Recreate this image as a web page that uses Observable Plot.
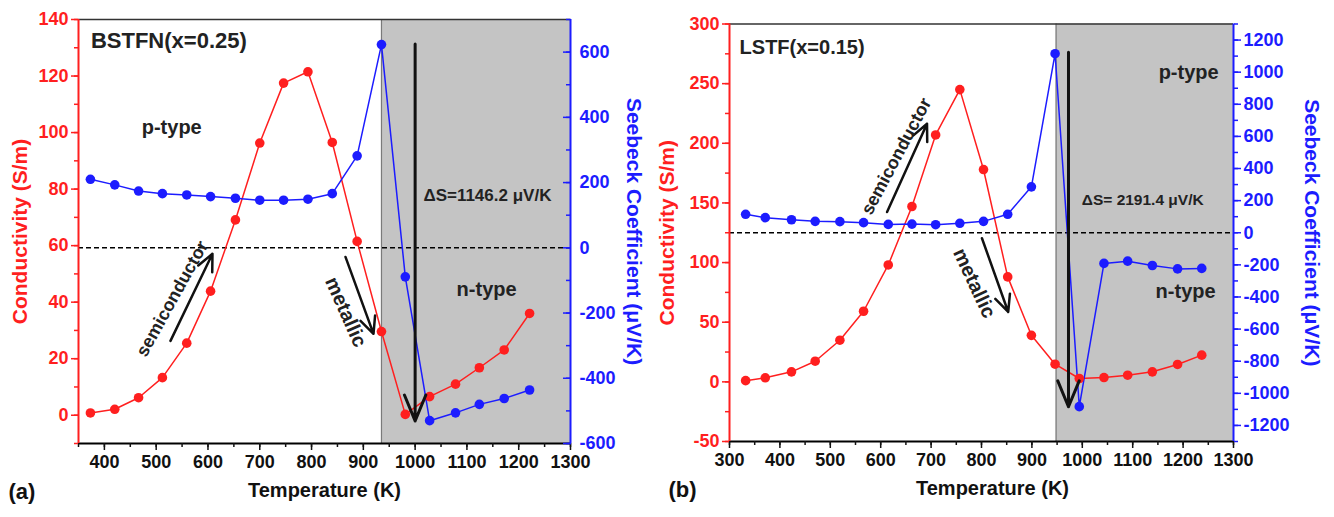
<!DOCTYPE html>
<html><head><meta charset="utf-8">
<script src="https://cdn.jsdelivr.net/npm/d3@7"></script>
<script src="https://cdn.jsdelivr.net/npm/@observablehq/plot@0.6"></script>
<style>
body{margin:0;background:#fff;}
#wrap{position:relative;width:1334px;height:517px;overflow:hidden;background:#fff;}
#pa{position:absolute;left:0;top:0;}
#pb{position:absolute;left:650px;top:0;}
</style></head><body><div id="wrap"><div id="pa"></div><div id="pb"></div></div>
<script>
// ---- Panel (a): BSTFN(x=0.25)
const tempA = [373, 420, 466, 512, 559, 605, 653, 700, 746, 793, 840, 888, 935, 981, 1028, 1078, 1124, 1172, 1221];
const condA = [0.8, 2.1, 6.2, 13.3, 25.5, 43.9, 69.1, 96.3, 117.5, 121.5, 96.5, 61.5, 29.6, 0.3, 6.6, 11, 16.8, 23.1, 36];
const seebeckA = [210, 193, 174, 166, 162, 157, 152, 146, 146, 149, 166, 282, 623, -89, -530, -506, -480, -462, -436];
const xTicksA = [400, 500, 600, 700, 800, 900, 1000, 1100, 1200, 1300];
const condTicksA = [0, 20, 40, 60, 80, 100, 120, 140];
const seebeckTicksA = [-600, -400, -200, 0, 200, 400, 600];

// ---- Panel (b): LSTF(x=0.15)
const tempB = [332, 371, 423, 470, 519, 566, 615, 662, 709, 757, 804, 852, 899, 946, 994, 1043, 1090, 1139, 1189, 1237];
const condB = [1, 3.4, 8.4, 17.3, 34.9, 59.2, 98, 147, 207, 245, 178, 88, 39, 14.8, 2.8, 3.6, 5.6, 8.4, 14.6, 22.4];
const seebeckB = [115, 94, 81, 71, 69, 63, 52, 54, 50, 59, 71, 115, 286, 1115, -1083, -191, -177, -204, -225, -222];
const xTicksB = [300, 400, 500, 600, 700, 800, 900, 1000, 1100, 1200, 1300];
const condTicksB = [-50, 0, 50, 100, 150, 200, 250, 300];
const seebeckTicksB = [-1200, -1000, -800, -600, -400, -200, 0, 200, 400, 600, 800, 1000, 1200];

const RED = "#ff1f1f", BLUE = "#1c1cff", SHADE = "#c4c4c4";
const FONT = "Arial, 'Liberation Sans', sans-serif";

function panel(o) {
  const toC = s => o.c[0] + (s - o.s[0]) / (o.s[1] - o.s[0]) * (o.c[1] - o.c[0]);
  const toS = c => o.s[0] + (c - o.c[0]) / (o.c[1] - o.c[0]) * (o.s[1] - o.s[0]);
  const rows = o.temp.map((t, i) => ({t, c: o.cond[i], s: toC(o.seebeck[i])}));
  const minor = (lo, hi, step) => d3.range(lo, hi + step / 2, step);
  const sMinor = minor(o.s[0], o.s[1], o.sStep / 2).map(toC);
  const rightTick = o.rightIn ? -8 : 7, rightMinor = o.rightIn ? -5 : 4;
  const rightPad = o.rightIn ? 17 : 3;
  const plain = d => String(Math.round(d));
  const txt = (label, x, y, opts = {}) => Plot.text([label], {x: () => x, y: () => y, fontSize: 20, fill: "#222", ...opts});
  return Plot.plot({
    width: o.width, height: 517,
    marginLeft: o.m[0], marginRight: o.m[1], marginTop: o.m[2], marginBottom: o.m[3],
    x: {domain: o.x, axis: null},
    y: {domain: o.c, axis: null},
    style: {fontFamily: FONT, fontWeight: "bold", fontSize: "18px", background: "white", overflow: "visible"},
    marks: [
      Plot.rect([0], {x1: () => o.shade, x2: () => o.x[1], fill: SHADE}),
      Plot.ruleX([o.shade], {stroke: "#7a7a7a", strokeWidth: 1.2}),
      Plot.ruleY([toC(0)], {stroke: "black", strokeDasharray: "5,3", strokeWidth: 1.6}),
      Plot.ruleY([o.c[1]], {stroke: "#333", strokeWidth: 1.5}),
      Plot.ruleY([o.c[0]], {stroke: "black", strokeWidth: 2}),
      Plot.ruleX([o.x[0]], {stroke: RED, strokeWidth: 2}),
      Plot.ruleX([o.x[1]], {stroke: BLUE, strokeWidth: 2}),
      // axes
      Plot.axisX(o.xTicks, {anchor: "bottom", tickSize: 7, tickPadding: 5, label: null, color: "#111", strokeWidth: 1.5, tickFormat: plain}),
      Plot.axisX(minor(o.x[0], o.x[1], 50), {anchor: "bottom", tickSize: 4, tickFormat: () => "", label: null, color: "#111", strokeWidth: 1.5}),
      Plot.axisY(o.cTicks, {anchor: "left", tickSize: 7, tickPadding: 3, label: null, color: RED, strokeWidth: 1.5, tickFormat: plain}),
      Plot.axisY(minor(o.c[0], o.c[1], o.cStep / 2), {anchor: "left", tickSize: 4, tickFormat: () => "", label: null, color: RED, strokeWidth: 1.5}),
      Plot.axisY(o.sTicks.map(toC), {anchor: "right", tickSize: rightTick, tickPadding: rightPad, label: null, color: BLUE, strokeWidth: 1.5, tickFormat: d => plain(toS(d))}),
      Plot.axisY(sMinor, {anchor: "right", tickSize: rightMinor, tickPadding: rightPad, tickFormat: () => "", label: null, color: BLUE, strokeWidth: 1.5}),
      // axis titles
      Plot.text(["Conductivity (S/m)"], {frameAnchor: "left", dx: o.titleDx[0], rotate: -90, textAnchor: "middle", fill: RED, fontSize: 21}),
      Plot.text(["Seebeck Coefficient (\u03bcV/K)"], {frameAnchor: "right", dx: o.titleDx[1], rotate: 90, textAnchor: "middle", fill: BLUE, fontSize: 21}),
      Plot.text(["Temperature (K)"], {frameAnchor: "bottom", dx: o.titleDx[2], dy: 53, textAnchor: "middle", fill: "#111", fontSize: 20}),
      Plot.text([o.tag], {frameAnchor: "bottom-left", dx: o.tagDx, dy: 55, textAnchor: "start", fill: "#111", fontSize: 22}),
      // data
      Plot.line(rows, {x: "t", y: "c", stroke: RED, strokeWidth: 1.5}),
      Plot.line(rows, {x: "t", y: "s", stroke: BLUE, strokeWidth: 1.5}),
      Plot.dot(rows, {x: "t", y: "c", fill: RED, r: 4.8}),
      Plot.dot(rows, {x: "t", y: "s", fill: BLUE, r: 4.8}),
      // arrows
      Plot.arrow([o.semiArrow], {x1: d => d[0], y1: d => d[1], x2: d => d[2], y2: d => d[3], stroke: "#111", strokeWidth: 2.5, headLength: 11, headAngle: 50}),
      Plot.arrow([o.metArrow], {x1: d => d[0], y1: d => d[1], x2: d => d[2], y2: d => d[3], stroke: "#111", strokeWidth: 2.5, headLength: 11, headAngle: 50}),
      Plot.arrow([o.dsArrow], {x1: d => d[0], y1: d => d[1], x2: d => d[0], y2: d => d[2], stroke: "#111", strokeWidth: 3, headLength: 14, headAngle: 45}),
      // annotations
      txt(o.name, o.nameAt[0], o.nameAt[1], {textAnchor: "start", fontSize: o.nameSize}),
      txt("p-type", o.pAt[0], o.pAt[1]),
      txt("n-type", o.nAt[0], o.nAt[1]),
      txt(o.ds, o.dsAt[0], o.dsAt[1], {textAnchor: "start", fontSize: o.dsSize}),
      txt("semiconductor", o.semiAt[0], o.semiAt[1], {rotate: o.semiAt[2], fontSize: 18}),
      txt("metallic", o.metAt[0], o.metAt[1], {rotate: o.metAt[2], fontSize: 20})
    ]
  });
}

document.querySelector("#pa").append(panel({
  width: 660, m: [78, 90, 19, 74], x: [350, 1300], c: [-10, 140], s: [-600, 700], cStep: 20, sStep: 200,
  temp: tempA, cond: condA, seebeck: seebeckA, xTicks: xTicksA, cTicks: condTicksA, sTicks: seebeckTicksA,
  shade: 935, rightIn: true, titleDx: [-58, 63, 0], tag: "(a)", tagDx: -70,
  name: "BSTFN(x=0.25)", nameSize: 22, nameAt: [374, 132.5], pAt: [530, 101.7], nAt: [1138, 44.4],
  ds: "\u0394S=1146.2 \u03bcV/K", dsAt: [1016, 77.6], dsSize: 17,
  semiArrow: [527.6, 26.3, 608.7, 57.1], metArrow: [865.5, 56, 919.6, 28.8], dsArrow: [1000, 131.3, -2],
  semiAt: [531, 41.2, -61], metAt: [866, 36.5, 66]
}));

document.querySelector("#pb").append(panel({
  width: 684, m: [79, 101, 23.5, 76], x: [300, 1300], c: [-50, 300], s: [-1300, 1300], cStep: 50, sStep: 200,
  temp: tempB, cond: condB, seebeck: seebeckB, xTicks: xTicksB, cTicks: condTicksB, sTicks: seebeckTicksB,
  shade: 948, rightIn: false, titleDx: [-62, 78, 11], tag: "(b)", tagDx: -61,
  name: "LSTF(x=0.15)", nameSize: 20, nameAt: [320, 280.6], pAt: [1211, 259.6], nAt: [1205, 75.4],
  ds: "\u0394S= 2191.4 \u03bcV/K", dsAt: [999, 152.2], dsSize: 15.5,
  semiArrow: [612.6, 142.4, 691.9, 216.4], metArrow: [800.9, 120.4, 853, 58.6], dsArrow: [972.6, 276.4, -20.9],
  semiAt: [631, 189, -62], metAt: [785.6, 82.7, 65]
}));
</script>
</body></html>
